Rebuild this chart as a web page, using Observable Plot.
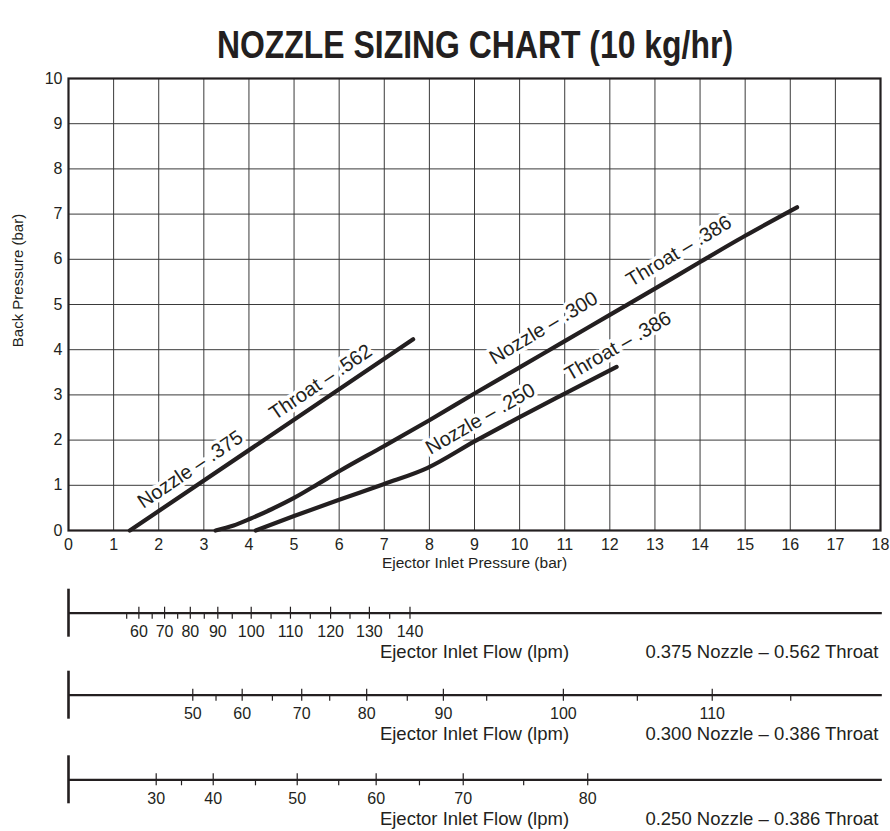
<!DOCTYPE html>
<html><head><meta charset="utf-8">
<script src="https://cdn.jsdelivr.net/npm/d3@7"></script>
<script src="https://cdn.jsdelivr.net/npm/@observablehq/plot@0.6"></script>
<style>
html,body{margin:0;padding:0;background:#fff;}
#wrap{position:relative;width:890px;height:831px;overflow:hidden;font-family:"Liberation Sans",Arial,Helvetica,sans-serif;color:#231f20;}
#title{position:absolute;left:475px;top:26px;transform:translateX(-50%) scaleX(0.84);white-space:nowrap;font-weight:bold;font-size:38px;line-height:1;}
#main{position:absolute;left:0;top:0;}
#flows{position:absolute;left:0;top:585px;}
</style></head><body>
<div id="wrap"><div id="main"></div><div id="flows"></div><div id="title">NOZZLE SIZING CHART (10 kg/hr)</div></div>
<script>
// ---- data ----
const xTickValues = [0,1,2,3,4,5,6,7,8,9,10,11,12,13,14,15,16,17,18];
const yTickValues = [0,1,2,3,4,5,6,7,8,9,10];

const n375X = [1.36, 7.64];
const n375Y = [0, 4.23];
const n300X = [3.26, 3.66, 4.03, 4.5, 5.0, 5.5, 6.0, 7.0, 8.0, 9.0, 10.0, 11.0, 12.0, 13.0, 14.0, 15.0, 16.15];
const n300Y = [0, 0.11, 0.26, 0.47, 0.72, 1.01, 1.31, 1.87, 2.44, 3.03, 3.61, 4.19, 4.77, 5.35, 5.94, 6.52, 7.15];
const n250X = [4.15, 5.0, 6.0, 7.0, 7.95, 9.0, 10.0, 11.0, 12.15];
const n250Y = [0, 0.32, 0.68, 1.03, 1.38, 1.97, 2.51, 3.03, 3.62];

const labelText  = ["Nozzle – .375", "Throat – .562", "Nozzle – .300", "Throat – .386", "Nozzle – .250", "Throat – .386"];
const labelX     = [2.70, 5.59, 10.53, 13.53, 9.13, 12.18];
const labelY     = [1.35, 3.28, 4.48, 6.18, 2.47, 4.08];
const labelAngle = [-34, -34, -31, -31, -30, -30];

const xLabel = "Ejector Inlet Pressure (bar)";
const yLabel = "Back Pressure (bar)";
const flowLabel = "Ejector Inlet Flow (lpm)";

// flow scales: flow value and the inlet pressure (bar) it lines up with
const flow375Major = [60, 70, 80, 90, 100, 110, 120, 130, 140];
const pos375Major  = [1.56, 2.13, 2.70, 3.31, 4.05, 4.92, 5.81, 6.67, 7.57];
const pos375Minor  = [1.29, 1.855, 2.42, 3.01, 3.63, 4.49, 5.36, 6.24, 7.12];
const flow300Major = [50, 60, 70, 80, 90, 100, 110];
const pos300Major  = [2.755, 3.85, 5.17, 6.61, 8.31, 10.97, 14.27];
const pos300Minor  = [3.27, 4.52, 5.79, 7.51, 9.27, 12.61, 16.01];
const flow250Major = [30, 40, 50, 60, 70, 80];
const pos250Major  = [1.944, 3.208, 5.07, 6.82, 8.75, 11.51];
const pos250Minor  = [2.505, 4.145, 5.99, 7.78, 10.09];
const stripNames = ["0.375 Nozzle – 0.562 Throat", "0.300 Nozzle – 0.386 Throat", "0.250 Nozzle – 0.386 Throat"];

// ---- build ----
const ink = "#231f20";
const font = "'Liberation Sans', Arial, Helvetica, sans-serif";
const pts = (xs, ys) => xs.map((x, i) => ({x, y: ys[i]}));
const labels = labelText.map((t, i) => ({t, x: labelX[i], y: labelY[i], a: labelAngle[i]}));

const main = Plot.plot({
  width: 890, height: 590,
  marginLeft: 68, marginRight: 10, marginTop: 78, marginBottom: 60,
  style: {fontFamily: font, color: ink, background: "transparent", overflow: "visible"},
  x: {domain: [0, 18]},
  y: {domain: [0, 10]},
  marks: [
    Plot.ruleX(xTickValues, {stroke: "#3a3a3a", strokeWidth: 1}),
    Plot.ruleY(yTickValues, {stroke: "#3a3a3a", strokeWidth: 1}),
    Plot.text(labels, {x: "x", y: "y", text: "t", rotate: "a", fontSize: 20, fill: ink, stroke: "white", strokeWidth: 7}),
    Plot.line(pts(n375X, n375Y), {x: "x", y: "y", stroke: ink, strokeWidth: 4.2}),
    Plot.line(pts(n300X, n300Y), {x: "x", y: "y", stroke: ink, strokeWidth: 4.2, curve: "monotone-x"}),
    Plot.line(pts(n250X, n250Y), {x: "x", y: "y", stroke: ink, strokeWidth: 4.2, curve: "monotone-x"}),
    Plot.frame({stroke: ink, strokeWidth: 2.2}),
    Plot.axisX({ticks: xTickValues, tickSize: 0, tickPadding: 8, fontSize: 16, label: null, tickFormat: d => String(d)}),
    Plot.axisY({ticks: yTickValues, tickSize: 0, tickPadding: 6, fontSize: 16, label: null, tickFormat: d => String(d)}),
    Plot.text([xLabel], {frameAnchor: "bottom", dy: 37, text: d => d, fontSize: 15.5, fill: ink}),
    Plot.text([yLabel], {frameAnchor: "left", textAnchor: "middle", rotate: -90, dx: -50, dy: -24, text: d => d, fontSize: 15, fill: ink})
  ]
});
document.getElementById("main").appendChild(main);

const strips = [
  {lineY: 612.7, flows: flow375Major, major: pos375Major, minor: pos375Minor, name: stripNames[0]},
  {lineY: 694.7, flows: flow300Major, major: pos300Major, minor: pos300Minor, name: stripNames[1]},
  {lineY: 779.3, flows: flow250Major, major: pos250Major, minor: pos250Minor, name: stripNames[2]}
];

const flows = Plot.plot({
  width: 890, height: 246,
  marginLeft: 68, marginRight: 10, marginTop: 0, marginBottom: 0,
  style: {fontFamily: font, color: ink, background: "transparent", overflow: "visible"},
  x: {domain: [0, 18], axis: null},
  y: {domain: [585, 831], range: [0, 246], axis: null},
  marks: strips.flatMap(s => [
    Plot.ruleY([s.lineY], {x1: 0, x2: 18.04, stroke: ink, strokeWidth: 2.2}),
    Plot.ruleX([0], {y1: s.lineY - 24, y2: s.lineY + 24, stroke: ink, strokeWidth: 2.6}),
    Plot.ruleX(s.major, {y1: s.lineY - 6, y2: s.lineY + 6, stroke: ink, strokeWidth: 1.2}),
    Plot.ruleX(s.minor, {y1: s.lineY, y2: s.lineY + 6, stroke: ink, strokeWidth: 1.2}),
    Plot.text(s.major, {x: d => d, y: s.lineY + 19, text: (d, i) => String(s.flows[i]), fontSize: 16, fill: ink}),
    Plot.text([flowLabel], {x: 9, y: s.lineY + 39, text: d => d, fontSize: 18.5, fill: ink}),
    Plot.text([s.name], {x: 18, y: s.lineY + 39, text: d => d, textAnchor: "end", dx: -2, fontSize: 18.5, fill: ink})
  ])
});
document.getElementById("flows").appendChild(flows);
</script>
</body></html>
